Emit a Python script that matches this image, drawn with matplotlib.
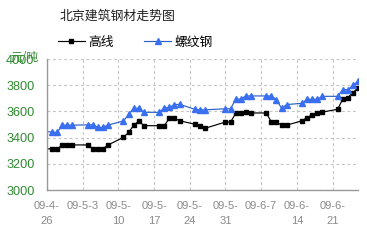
"""北京建筑钢材走势图 — 高线 / 螺纹钢 daily prices, Apr-Jun 2009."""

import matplotlib
matplotlib.use("Agg")
import matplotlib.pyplot as plt
import pandas as pd

plt.rcParams["font.family"] = ["Noto Sans CJK SC", "DejaVu Sans"]

dates = [
    "2009-04-26", "2009-04-27", "2009-04-28", "2009-04-29", "2009-04-30", "2009-05-01",
    "2009-05-04", "2009-05-05", "2009-05-06", "2009-05-07", "2009-05-08",
    "2009-05-11", "2009-05-12", "2009-05-13", "2009-05-14", "2009-05-15",
    "2009-05-18", "2009-05-19", "2009-05-20", "2009-05-21", "2009-05-22",
    "2009-05-25", "2009-05-26", "2009-05-27",
    "2009-05-31", "2009-06-01", "2009-06-02", "2009-06-03", "2009-06-04", "2009-06-05",
    "2009-06-08", "2009-06-09", "2009-06-10", "2009-06-11", "2009-06-12",
    "2009-06-15", "2009-06-16", "2009-06-17", "2009-06-18", "2009-06-19",
    "2009-06-22", "2009-06-23", "2009-06-24", "2009-06-25", "2009-06-26",
]
wire_rod = [
    3315, 3313, 3313, 3344, 3344, 3344,
    3344, 3315, 3315, 3315, 3344,
    3402, 3440, 3493, 3527, 3491,
    3491, 3491, 3547, 3547, 3529,
    3502, 3486, 3471,
    3519, 3519, 3584, 3590, 3594, 3588,
    3588, 3520, 3518, 3495, 3495,
    3528, 3553, 3573, 3590, 3595,
    3616, 3693, 3706, 3743, 3779,
]
rebar = [
    3447, 3440, 3440, 3495, 3495, 3495,
    3497, 3497, 3478, 3478, 3496,
    3527, 3577, 3624, 3624, 3593,
    3593, 3626, 3630, 3652, 3654,
    3616, 3612, 3612,
    3620, 3620, 3692, 3695, 3718, 3718,
    3718, 3718, 3690, 3624, 3652,
    3662, 3692, 3692, 3692, 3715,
    3715, 3766, 3766, 3798, 3830,
]
tick_dates = [
    "2009-04-26", "2009-05-03", "2009-05-10", "2009-05-17", "2009-05-24",
    "2009-05-31", "2009-06-07", "2009-06-14", "2009-06-21",
]
tick_labels = [
    "09-4-\n26", "09-5-3", "09-5-\n10", "09-5-\n17", "09-5-\n24",
    "09-5-\n31", "09-6-7", "09-6-\n14", "09-6-\n21",
]
y_ticks = [3000, 3200, 3400, 3600, 3800, 4000]

x = pd.to_datetime(dates)
green = "#2f8a2f"

fig = plt.figure(figsize=(3.67, 2.47), dpi=100)
ax = fig.add_axes([47 / 367, 1 - 190 / 247, 311 / 367, 131 / 247])

ax.plot(x, wire_rod, color="black", linewidth=0.85, marker="s", markersize=2.3,
        markevery=slice(1, None), label="高线")
ax.plot(x, rebar, color="#2a62c4", linewidth=0.85, marker="^", markersize=4.0,
        markerfacecolor="#3a6ff0", markeredgecolor="#3a6ff0",
        markevery=slice(1, None), label="螺纹钢")

ax.set_xlim(x[0], x[-1])
ax.set_ylim(3000, 4000)
ax.set_yticks(y_ticks)
ax.set_yticklabels([str(v) for v in y_ticks], family="Liberation Sans",
                   fontsize=9.2, color=green)
ax.set_xticks(pd.to_datetime(tick_dates))
ax.set_xticklabels(tick_labels, family="Liberation Sans", fontsize=8,
                   color="#8a8a8a", linespacing=1.6, va="top")
ax.tick_params(axis="both", length=0)
ax.tick_params(axis="y", pad=9)
ax.tick_params(axis="x", pad=8)

ax.grid(True, color="#c4c4c4", linestyle=(0, (2.5, 2.5)), linewidth=0.8)
ax.set_axisbelow(True)
for side in ("top", "right"):
    ax.spines[side].set_visible(False)
for side in ("left", "bottom"):
    ax.spines[side].set_color("#9a9a9a")
    ax.spines[side].set_linewidth(1.0)

fig.text(60 / 367, 1 - 16 / 247, "北京建筑钢材走势图", fontsize=9.3,
         color="#222222", va="center", ha="left")
fig.text(10 / 367, 1 - 57 / 247, "元/吨", fontsize=8.5, color=green,
         va="center", ha="left")
fig.legend(loc="center left", bbox_to_anchor=(58 / 367, 1 - 42 / 247), ncol=2,
           frameon=False, fontsize=9.2, handlelength=2.1, handletextpad=0.25,
           columnspacing=2.4, borderpad=0, borderaxespad=0)

fig.savefig("out.png", dpi=100)
